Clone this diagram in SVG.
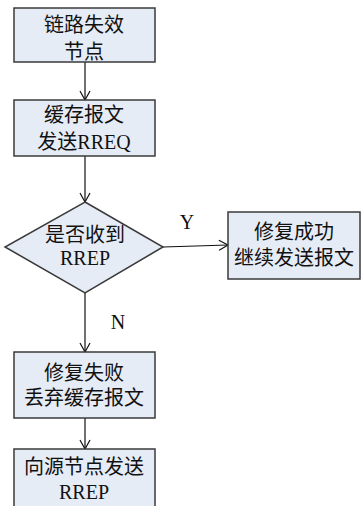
<svg xmlns="http://www.w3.org/2000/svg" width="361" height="506" viewBox="0 0 361 506">
<style>
.box{fill:#e6ecf6;stroke:#3a3a3a;stroke-width:1.5}
.t{font-family:"Liberation Serif","Noto Sans CJK SC",serif;font-size:20px;fill:#111;text-anchor:middle}
.c{stroke:#111;stroke-width:1.2;fill:none}
</style>
<defs>
<marker id="ah" markerWidth="12" markerHeight="12" refX="10" refY="6" orient="auto" markerUnits="userSpaceOnUse">
<path d="M1,1 L10,6 L1,11" fill="none" stroke="#111" stroke-width="1.2"/>
</marker>
</defs>
<rect width="361" height="506" fill="#fff"/>
<g id="connectors">
<line class="c" x1="85" y1="62" x2="85" y2="100" marker-end="url(#ah)"/>
<line class="c" x1="85" y1="156" x2="85" y2="202" marker-end="url(#ah)"/>
<line class="c" x1="163" y1="247" x2="228" y2="245" marker-end="url(#ah)"/>
<line class="c" x1="85" y1="293" x2="85" y2="352" marker-end="url(#ah)"/>
<line class="c" x1="85" y1="418" x2="85" y2="449" marker-end="url(#ah)"/>
<text class="t" x="187" y="229">Y</text>
<text class="t" x="118" y="329">N</text>
</g>
<g id="n1">
<rect class="box" x="14" y="8" width="141" height="54"/>
<text class="t" x="84" y="32">链路失效</text>
<text class="t" x="84" y="59">节点</text>
</g>
<g id="n2">
<rect class="box" x="14" y="100" width="141" height="56"/>
<text class="t" x="84" y="122">缓存报文</text>
<text class="t" x="84" y="149">发送RREQ</text>
</g>
<g id="n3">
<polygon class="box" points="85,202 163,247 85,293 5,247"/>
<text class="t" x="85" y="242">是否收到</text>
<text class="t" x="85" y="265">RREP</text>
</g>
<g id="n4">
<rect class="box" x="228" y="212" width="132" height="67"/>
<text class="t" x="294" y="239">修复成功</text>
<text class="t" x="294" y="265">继续发送报文</text>
</g>
<g id="n5">
<rect class="box" x="14" y="352" width="141" height="66"/>
<text class="t" x="84" y="380">修复失败</text>
<text class="t" x="84" y="405">丢弃缓存报文</text>
</g>
<g id="n6">
<rect class="box" x="14" y="449" width="141" height="70"/>
<text class="t" x="84" y="474">向源节点发送</text>
<text class="t" x="84" y="499">RREP</text>
</g>
</svg>
